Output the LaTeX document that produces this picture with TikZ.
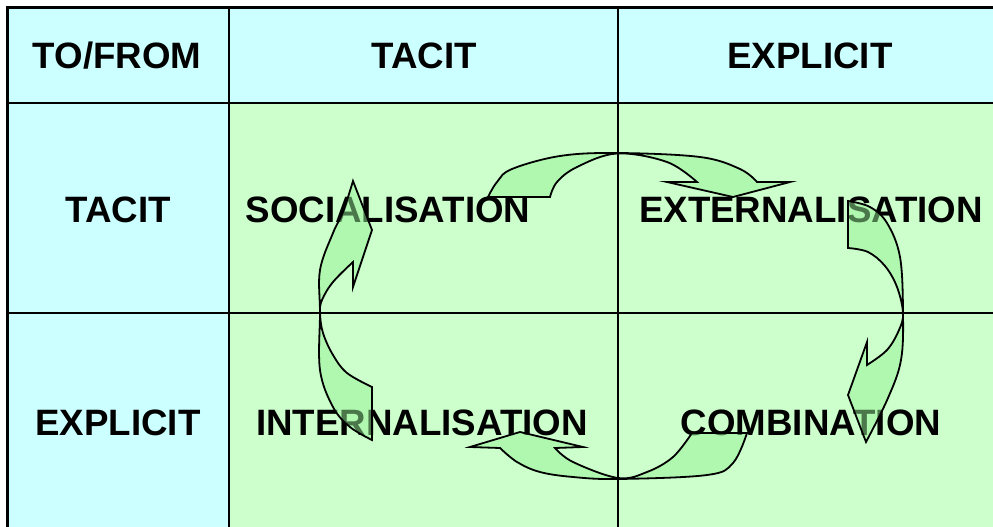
\documentclass[tikz,border=0pt]{standalone}
\usepackage{fontspec}
\setmainfont{Liberation Sans}
\definecolor{cyanbg}{HTML}{CCFFFF}
\definecolor{greenbg}{HTML}{CCFFCC}
\definecolor{arrowfill}{RGB}{150,240,150}
\begin{document}
\begin{tikzpicture}[x=1pt,y=-1pt,
  lbl/.style={anchor=base, font=\fontsize{36.7}{40}\selectfont\bfseries, inner sep=0pt},
  grid/.style={line width=2.6pt, black},
  cyc/.style={draw=black, line width=1.8pt, fill=arrowfill, fill opacity=0.5, line join=miter}]
\useasboundingbox (0,0) rectangle (993,527);
\clip (0,0) rectangle (993,527);
\fill[white] (0,0) rectangle (993,527);
% cell backgrounds
\fill[cyanbg] (7.5,7.5) rectangle (1004,103);
\fill[cyanbg] (7.5,103) rectangle (229,533);
\fill[greenbg] (229,103) rectangle (1004,533);
% grid
\draw[grid] (7.5,7.5) rectangle (1004,533);
\draw[grid] (229,7.5) -- (229,533);
\draw[grid] (618,7.5) -- (618,533);
\draw[grid] (7.5,103) -- (1004,103);
\draw[grid] (7.5,313) -- (1004,313);
% labels
\node[lbl] (h0) at (117,69) {TO/FROM};
\node[lbl] (h1) at (424,69) {TACIT};
\node[lbl] (h2) at (810,69) {EXPLICIT};
\node[lbl] (r1) at (118,222) {TACIT};
\node[lbl] (r2) at (118,435) {EXPLICIT};
\node[lbl] (soc) at (388,222) {SOCIALISATION};
\node[lbl] (ext) at (811,222) {EXTERNALISATION};
\node[lbl] (int) at (422,435) {INTERNALISATION};
\node[lbl] (com) at (811,435) {COMBINATION};
% top arrow: socialisation -> externalisation
\path[cyc] (488,197)
  -- plot[smooth, tension=0.6] coordinates {(488,197) (497,182) (512,169) (560,156) (617,153) (700,157) (740,169) (757,182)}
  -- (790,182) -- (733,197) -- (667,182) -- (697,182)
  -- plot[smooth, tension=0.6] coordinates {(697,182) (667,162) (617,153.5) (577,167) (557,182) (550,197)}
  -- cycle;
% right arrow: externalisation -> combination
\path[cyc] (848,201)
  -- plot[smooth, tension=0.6] coordinates {(848,201) (870,207) (887,223) (900,257) (903,313) (901,360) (888,398) (866,442)}
  -- (848,395) -- (867,342) -- (867,365)
  -- plot[smooth, tension=0.6] coordinates {(867,365) (887,350) (899,330) (903,313) (897,287) (885,266) (868,252) (848,248)}
  -- cycle;
% bottom arrow: combination -> internalisation
\path[cyc] (747,433)
  -- plot[smooth, tension=0.6] coordinates {(747,433) (733,463) (707,475) (618,479) (573,477) (540,472) (517,462) (500,448)}
  -- (470,447) -- (520,432) -- (583,447) -- (555,448)
  -- plot[smooth, tension=0.6] coordinates {(555,448) (573,462) (618,478) (647,472) (673,457) (692,433)}
  -- cycle;
% left arrow: internalisation -> socialisation
\path[cyc] (372,440)
  -- plot[smooth, tension=0.6] coordinates {(372,440) (350,427) (333,407) (320,370) (320,313) (320,270) (333,233) (343,212) (353,181)}
  -- (372,230) -- (353,287) -- (353,262)
  -- plot[smooth, tension=0.6] coordinates {(353,262) (333,282) (322,300) (320,313) (323,333) (333,355) (347,373) (372,387)}
  -- cycle;
\end{tikzpicture}
\end{document}
